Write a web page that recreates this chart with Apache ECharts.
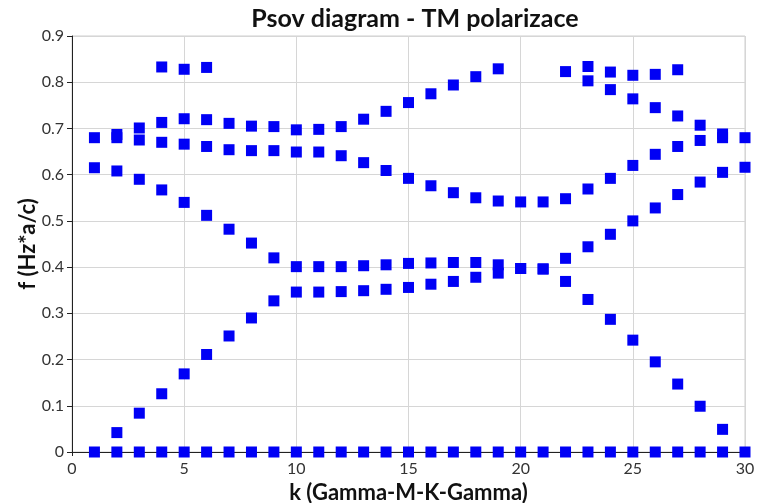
<!DOCTYPE html>
<html>
<head>
<meta charset="utf-8">
<script src="https://cdn.jsdelivr.net/npm/echarts@6/dist/echarts.min.js"></script>
<style>
  html, body { margin: 0; padding: 0; background: #fff; }
  #main { width: 759px; height: 503px; }
</style>
</head>
<body>
<div id="main"></div>
<script>
// k points along Gamma-M-K-Gamma path
var k = [1,2,3,4,5,6,7,8,9,10,11,12,13,14,15,16,17,18,19,20,21,22,23,24,25,26,27,28,29,30];

// bands (null = no point)
var band0 = [0,0,0,0,0,0,0,0,0,0,0,0,0,0,0,0,0,0,0,0,0,0,0,0,0,0,0,0,0,0];
var band1 = [null,0.042,0.084,0.126,0.169,0.211,0.251,0.290,0.327,0.346,0.346,0.347,0.349,0.352,0.356,0.363,0.369,0.378,0.387,0.397,0.396,0.419,0.444,0.471,0.500,0.528,0.557,0.584,0.605,0.616];
var band2 = [0.615,0.608,0.590,0.567,0.540,0.512,0.482,0.452,0.420,0.401,0.401,0.401,0.403,0.405,0.408,0.409,0.410,0.410,0.405,0.397,0.396,0.369,0.330,0.287,0.242,0.195,0.147,0.099,0.049,null];
var band3 = [0.680,0.680,0.675,0.670,0.666,0.661,0.654,0.652,0.652,0.649,0.649,0.641,0.626,0.609,0.592,0.576,0.561,0.550,0.543,0.541,0.541,0.548,0.569,0.592,0.620,0.644,0.661,0.674,0.680,0.680];
var band4 = [null,0.687,0.701,0.713,0.721,0.719,0.711,0.705,0.704,0.697,0.698,0.704,0.720,0.737,0.756,0.775,0.794,0.812,0.829,null,null,null,0.803,0.784,0.764,0.745,0.727,0.707,0.688,null];
var band5 = [null,null,null,0.833,0.828,0.832,null,null,null,null,null,null,null,null,null,null,null,null,null,null,null,0.823,0.834,0.822,0.815,0.817,0.827,null,null,null];

var bands = [band0, band1, band2, band3, band4, band5];

function toPoints(vals) {
    var pts = [];
    for (var i = 0; i < k.length; i++) {
        if (vals[i] !== null) pts.push([k[i], vals[i]]);
    }
    return pts;
}

var chart = echarts.init(document.getElementById('main'));
var font = 'Lato, "DejaVu Sans", sans-serif';

var series = bands.map(function (b) {
    return {
        type: 'scatter',
        symbol: 'rect',
        symbolSize: 11,
        itemStyle: { color: '#0000f5', opacity: 1 },
        data: toPoints(b)
    };
});

var option = {
    animation: false,
    backgroundColor: '#fff',
    title: {
        text: 'Psov diagram - TM polarizace',
        left: 410,
        textAlign: 'center',
        top: 1,
        textStyle: { fontFamily: font, fontSize: 25, fontWeight: 'bold', color: '#111' }
    },
    grid: {
        left: 72, right: 14, top: 36, bottom: 51,
        outerBoundsMode: 'none',
        containLabel: false,
        show: true, borderColor: '#cfcfcf', borderWidth: 1
    },
    xAxis: {
        type: 'value',
        min: 0, max: 30, interval: 5,
        name: 'k (Gamma-M-K-Gamma)',
        nameLocation: 'middle',
        nameGap: 29,
        nameTextStyle: { fontFamily: font, fontSize: 22, fontWeight: 'bold', color: '#111' },
        axisLine: { onZero: false, lineStyle: { color: '#222', width: 1 } },
        axisTick: { show: true, length: 4, lineStyle: { color: '#222' } },
        axisLabel: { fontFamily: font, fontSize: 16, color: '#333', margin: 9 },
        splitLine: { show: true, lineStyle: { color: '#d6d6d6' } }
    },
    yAxis: {
        type: 'value',
        min: 0, max: 0.9, interval: 0.1,
        name: 'f (Hz*a/c)',
        nameLocation: 'middle',
        nameGap: 33,
        nameMoveOverlap: false,
        nameTextStyle: { fontFamily: font, fontSize: 22, fontWeight: 'bold', color: '#111' },
        axisLine: { show: true, onZero: false, lineStyle: { color: '#222', width: 1 } },
        axisTick: { show: true, length: 5, lineStyle: { color: '#222' } },
        axisLabel: {
            fontFamily: font, fontSize: 16, color: '#333', margin: 8,
            formatter: function (v) { return v === 0 ? '0' : v.toFixed(1); }
        },
        splitLine: { show: true, lineStyle: { color: '#d6d6d6' } }
    },
    series: series
};

option && chart.setOption(option);
</script>
</body>
</html>
